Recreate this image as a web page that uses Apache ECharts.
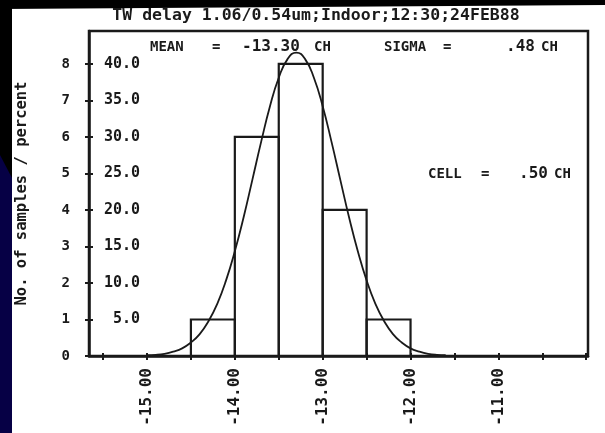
<!DOCTYPE html>
<html>
<head>
<meta charset="utf-8">
<script src="https://cdn.jsdelivr.net/npm/echarts@6/dist/echarts.min.js"></script>
<style>
html,body{margin:0;padding:0;background:#fff;}
#chart{width:605px;height:433px;}
</style>
</head>
<body>
<div id="chart"></div>
<script>
// ---- data ----
var binStarts = [-14.5, -14.0, -13.5, -13.0, -12.5];
var binEnds   = [-14.0, -13.5, -13.0, -12.5, -12.0];
var binCounts = [1, 6, 8, 4, 1];
var curveX = [-15.0,-14.9,-14.8,-14.7,-14.6,-14.5,-14.4,-14.3,-14.2,-14.1,-14.0,-13.9,-13.8,-13.7,-13.6,-13.5,-13.4,-13.3,-13.2,-13.1,-13.0,-12.9,-12.8,-12.7,-12.6,-12.5,-12.4,-12.3,-12.2,-12.1,-12.0,-11.9,-11.8,-11.7,-11.6];
var curveY = [0.02,0.03,0.06,0.12,0.21,0.37,0.60,0.95,1.43,2.07,2.87,3.80,4.83,5.87,6.84,7.62,8.13,8.31,8.13,7.62,6.84,5.87,4.83,3.80,2.87,2.07,1.43,0.95,0.60,0.37,0.21,0.12,0.06,0.03,0.02];
var xTickValues = [-15.5,-15.0,-14.5,-14.0,-13.5,-13.0,-12.5,-12.0,-11.5,-11.0,-10.5,-10.0];
var xLabelValues = [-15, -14, -13, -12, -11];
var countTicks = [0,1,2,3,4,5,6,7,8];
var percentTicks = [1,2,3,4,5,6,7,8];
var percentLabels = ['5.0','10.0','15.0','20.0','25.0','30.0','35.0','40.0'];
var titleText = 'TW delay 1.06/0.54um;Indoor;12:30;24FEB88';
var yName = 'No. of samples / percent';

var INK = '#1a1a1a';
var FONT = '"DejaVu Sans Mono", monospace';

var chart = echarts.init(document.getElementById('chart'), null, {renderer:'canvas'});

var bins = binStarts.map(function(s,i){ return [s, binEnds[i], binCounts[i]]; });
var curve = curveX.map(function(x,i){ return [x, curveY[i]]; });

function txt(text, x, y, size, align){
  return {type:'text', x:x, y:y, z:10, silent:true,
    style:{text:text, fill:INK, font:'bold '+(size||14)+'px '+FONT,
      textAlign:align||'left', align:align||'left', textVerticalAlign:'middle', verticalAlign:'middle'}};
}

var option = {
  backgroundColor:'#ffffff',
  animation:false,
  grid:{left:89, right:17, top:31, bottom:77, show:true, borderColor:INK, borderWidth:2.5, backgroundColor:'transparent'},
  xAxis:[{
    type:'value', min:-15.66, max:-9.98,
    axisLine:{show:true, lineStyle:{color:INK, width:2.5}},
    axisTick:{show:true, customValues:xTickValues, length:4, lineStyle:{color:INK, width:2}},
    axisLabel:{customValues:xLabelValues, rotate:90, margin:12, color:INK,
      fontFamily:FONT, fontWeight:'bold', fontSize:16,
      formatter:function(v){ return v.toFixed(2); }},
    splitLine:{show:false}
  },{
    type:'value', min:-15.66, max:-9.98, position:'bottom',
    axisLine:{show:false},
    axisTick:{show:true, inside:true, customValues:xTickValues, length:3, lineStyle:{color:INK, width:2}},
    axisLabel:{show:false}, splitLine:{show:false}
  }],
  yAxis:[{
    type:'value', min:0, max:8.9, position:'left',
    axisLine:{show:true, lineStyle:{color:INK, width:2.5}},
    axisTick:{show:true, customValues:countTicks, length:4, lineStyle:{color:INK, width:2}},
    axisLabel:{customValues:countTicks, margin:19, color:INK, fontFamily:FONT, fontWeight:'bold', fontSize:14},
    splitLine:{show:false},
    name:yName, nameLocation:'middle', nameGap:59,
    nameTextStyle:{color:INK, fontFamily:FONT, fontWeight:'bold', fontSize:15.5}
  },{
    type:'value', min:0, max:8.9, position:'left',
    axisLine:{show:false},
    axisTick:{show:true, inside:true, customValues:percentTicks, length:4, lineStyle:{color:INK, width:2}},
    axisLabel:{inside:true, customValues:percentTicks, margin:51, align:'right', color:INK,
      fontFamily:FONT, fontWeight:'bold', fontSize:15,
      formatter:function(v){ return percentLabels[percentTicks.indexOf(Math.round(v))] || ''; }},
    splitLine:{show:false}
  }],
  series:[{
    type:'custom', xAxisIndex:0, yAxisIndex:0, data:bins, z:3,
    renderItem:function(params, api){
      var p0 = api.coord([api.value(0), 0]);
      var p1 = api.coord([api.value(1), api.value(2)]);
      return {type:'rect', shape:{x:p0[0], y:p1[1], width:p1[0]-p0[0], height:p0[1]-p1[1]},
        style:{fill:'none', stroke:INK, lineWidth:2.2}};
    }
  },{
    type:'line', xAxisIndex:0, yAxisIndex:0, data:curve, smooth:true, symbol:'none', z:4,
    lineStyle:{color:INK, width:1.8}
  }],
  graphic:[
    {type:'polygon', z:-1, silent:true, shape:{points:[[0,0],[605,0],[605,5],[0,9]]}, style:{fill:'#000'}},
    {type:'rect', z:-1, silent:true, shape:{x:0, y:0, width:12, height:433}, style:{fill:'#000'}},
    {type:'polygon', z:-1, silent:true, shape:{points:[[0,155],[12,178],[12,433],[0,433]]}, style:{fill:'#060045'}},
    txt(titleText, 316, 16, 16.5, 'center'),
    txt('MEAN', 150, 47, 14), txt('=', 212, 47, 14), txt('-13.30', 242, 47, 16), txt('CH', 314, 47, 14),
    txt('SIGMA', 384, 47, 14), txt('=', 443, 47, 14), txt('.48', 506, 47, 16), txt('CH', 541, 47, 14),
    txt('CELL', 428, 174, 14), txt('=', 481, 174, 14), txt('.50', 519, 174, 16), txt('CH', 554, 174, 14)
  ]
};
chart.setOption(option);
</script>
</body>
</html>
